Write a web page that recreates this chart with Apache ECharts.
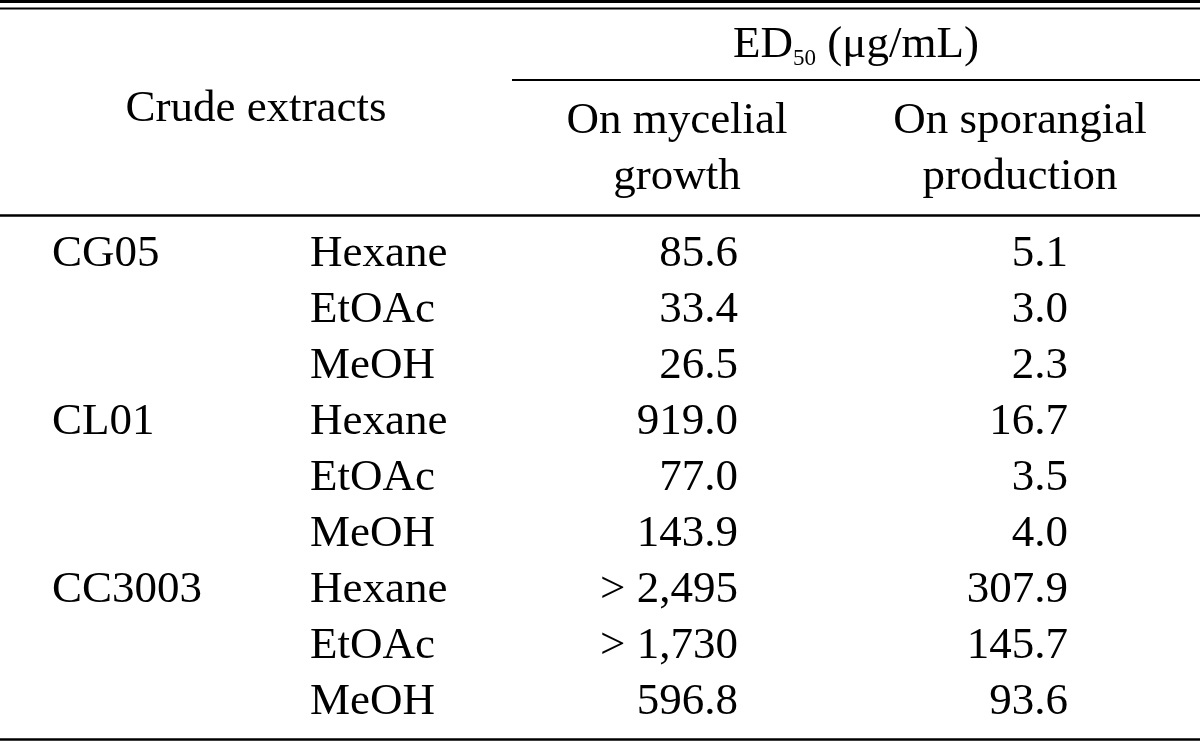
<!DOCTYPE html>
<html><head><meta charset="utf-8">
<script src="https://cdn.jsdelivr.net/npm/echarts@6/dist/echarts.min.js"></script>
<style>html,body{margin:0;padding:0;background:#fff}#c{width:1200px;height:742px}</style>
</head><body><div id="c"></div>
<script>
// ---- data ----
const groupLabels = ["CG05", "", "", "CL01", "", "", "CC3003", "", ""];
const solvents = ["Hexane", "EtOAc", "MeOH", "Hexane", "EtOAc", "MeOH", "Hexane", "EtOAc", "MeOH"];
const mycelial = ["85.6", "33.4", "26.5", "919.0", "77.0", "143.9", "> 2,495", "> 1,730", "596.8"];
const sporangial = ["5.1", "3.0", "2.3", "16.7", "3.5", "4.0", "307.9", "145.7", "93.6"];
const stubHeader = "Crude extracts";
const spanHeaderMain = "ED";
const spanHeaderSub = "50";
const spanHeaderUnit = " (\u03bcg/mL)";
const colHeader1 = ["On mycelial", "growth"];
const colHeader2 = ["On sporangial", "production"];

// ---- layout (positions/styles only) ----
const FONT_FAMILY = '"Liberation Serif", "DejaVu Serif", serif';
const FS = 45;
const font = (s) => s + 'px ' + FONT_FAMILY;
const INK = '#000';
const colX = { group: 52, solvent: 310, myc: 738, spo: 1068 };

const rowIdx = solvents.map((_, i) => i);

const chart = echarts.init(document.getElementById('c'), null, { renderer: 'canvas' });

function txt(x, y, text, align) {
  return {
    type: 'text', x: x, y: y,
    style: { text: text, font: font(FS), fill: INK, align: align, verticalAlign: 'middle',
             textAlign: align, textVerticalAlign: 'middle' }
  };
}
function hdr(x, y, text) {
  return { type: 'text', x: x, y: y, style: { text: text, font: font(FS), fill: INK, align: 'center', verticalAlign: 'middle', textAlign: 'center', textVerticalAlign: 'middle' } };
}

const option = {
  animation: false,
  backgroundColor: '#fff',
  grid: { left: 0, right: 0, top: 226, bottom: 12, containLabel: false },
  xAxis: { type: 'value', min: 0, max: 1200, show: false },
  yAxis: { type: 'category', data: rowIdx.map(String), inverse: true, show: false },
  series: [{
    type: 'custom',
    data: rowIdx.map(i => [0, i]),
    encode: { x: 0, y: 1 },
    renderItem: function (params, api) {
      const i = params.dataIndex;
      const y = api.coord([0, api.value(1)])[1];
      const children = [];
      if (groupLabels[i]) children.push(txt(api.coord([colX.group, 0])[0], y, groupLabels[i], 'left'));
      children.push(txt(api.coord([colX.solvent, 0])[0], y, solvents[i], 'left'));
      children.push(txt(api.coord([colX.myc, 0])[0], y, mycelial[i], 'right'));
      children.push(txt(api.coord([colX.spo, 0])[0], y, sporangial[i], 'right'));
      return { type: 'group', children: children };
    }
  }],
  graphic: [
    // rules
    { type: 'line', shape: { x1: 0, y1: 1.5, x2: 1200, y2: 1.5 }, style: { stroke: INK, lineWidth: 3 } },
    { type: 'line', shape: { x1: 0, y1: 8.5, x2: 1200, y2: 8.5 }, style: { stroke: INK, lineWidth: 2 } },
    { type: 'line', shape: { x1: 512, y1: 80, x2: 1200, y2: 80 }, style: { stroke: INK, lineWidth: 2 } },
    { type: 'line', shape: { x1: 0, y1: 215.5, x2: 1200, y2: 215.5 }, style: { stroke: INK, lineWidth: 2.5 } },
    { type: 'line', shape: { x1: 0, y1: 739.5, x2: 1200, y2: 739.5 }, style: { stroke: INK, lineWidth: 2.5 } },
    // headers
    hdr(256, 109, stubHeader),
    hdr(677, 121, colHeader1[0]),
    hdr(677, 177, colHeader1[1]),
    hdr(1020, 121, colHeader2[0]),
    hdr(1020, 177, colHeader2[1]),
    { type: 'text', x: 856, y: 45, style: {
        text: '{a|' + spanHeaderMain + '}{b|' + spanHeaderSub + '}{a|' + spanHeaderUnit + '}',
        align: 'center', verticalAlign: 'middle', textAlign: 'center', textVerticalAlign: 'middle',
        rich: {
          a: { font: font(FS), fill: INK, lineHeight: 50, verticalAlign: 'middle' },
          b: { font: font(23), fill: INK, lineHeight: 22, verticalAlign: 'bottom' }
        }
    } }
  ]
};
chart.setOption(option);
</script>
</body></html>
